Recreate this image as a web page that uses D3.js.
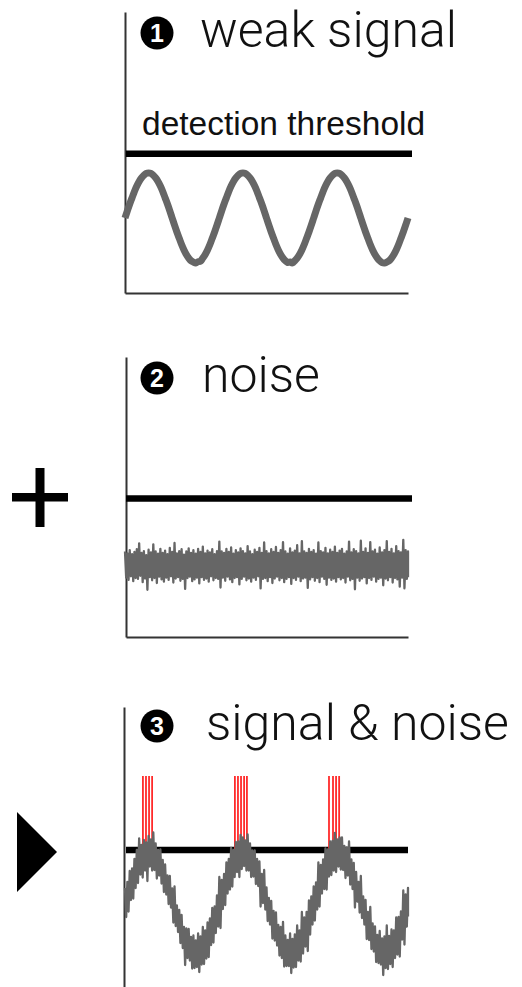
<!DOCTYPE html>
<html>
<head>
<meta charset="utf-8">
<title>Stochastic resonance</title>
<style>
body { margin: 0; background: #fff; }
svg { display: block; }
</style>
</head>
<body>
<script src="https://d3js.org/d3.v7.min.js"></script>
<script>
// weak periodic signal, one sample every 9 degrees of phase (three periods)
var signal = [
  0, .16, .31, .45, .59, .71, .81, .89, .95, .99, 1, .99, .95, .89, .81, .71, .59, .45, .31, .16,
  0, -.16, -.31, -.45, -.59, -.71, -.81, -.89, -.95, -.98, -1, -.97, -.96, -.89, -.81, -.71, -.59, -.45, -.31, -.16,
  0, .16, .31, .45, .59, .71, .81, .89, .95, .99, 1, .99, .95, .89, .81, .71, .59, .45, .31, .16,
  0, -.16, -.31, -.45, -.59, -.71, -.81, -.89, -.95, -.99, -.98, -1, -.95, -.89, -.81, -.71, -.59, -.45, -.31, -.16,
  0, .16, .31, .45, .59, .71, .81, .89, .95, .99, 1, .99, .95, .89, .81, .71, .59, .45, .31, .16,
  0, -.16, -.31, -.45, -.59, -.71, -.81, -.89, -.95, -.99, -1, -.98, -.95, -.89, -.81, -.71, -.59, -.45, -.31, -.16,
  0
];

// noise envelope (upper / lower excursion) for each sample
var noiseHigh = [
  .30, .26, .33, .24, .29, .35, .48, .27, .31, .22, .34, .28, .46, .30, .25, .36, .27, .32, .24, .38,
  .29, .49, .26, .31, .35, .23, .30, .37, .27, .33, .25, .36, .29, .41, .26, .32, .28, .35, .24, .31,
  .52, .30, .27, .36, .29, .39, .25, .33, .28, .37, .31, .26, .42, .30, .24, .34, .29, .38, .27, .50,
  .31, .26, .35, .29, .40, .27, .33, .51, .30, .25, .37, .28, .32, .44, .26, .53, .30, .27, .36, .29,
  .33, .25, .50, .31, .28, .38, .26, .34, .29, .41, .27, .32, .36, .25, .30, .52, .28, .35, .31, .26,
  .54, .29, .37, .27, .51, .30, .34, .25, .39, .28, .33, .53, .29, .36, .26, .42, .31, .28, .56, .33,
  .30
];
var noiseLow = [
  -.28, -.33, -.25, -.36, -.29, -.31, -.24, -.38, -.30, -.55, -.27, -.34, -.29, -.40, -.26, -.32, -.37, -.28, -.33, -.25,
  -.39, -.30, -.27, -.35, -.31, -.53, -.29, -.26, -.36, -.32, -.28, -.41, -.27, -.33, -.30, -.37, -.25, -.34, -.29, -.31,
  -.50, -.28, -.35, -.26, -.32, -.38, -.29, -.27, -.43, -.31, -.26, -.34, -.30, -.37, -.28, -.33, -.25, -.52, -.31, -.29,
  -.36, -.27, -.40, -.30, -.26, -.34, -.29, -.38, -.31, -.27, -.42, -.29, -.33, -.26, -.36, -.30, -.28, -.51, -.32, -.27,
  -.35, -.29, -.38, -.26, -.31, -.44, -.28, -.33, -.30, -.37, -.27, -.32, -.29, -.39, -.26, -.34, -.31, -.54, -.28, -.35,
  -.30, -.27, -.41, -.29, -.33, -.26, -.37, -.31, -.28, -.45, -.30, -.34, -.27, -.39, -.29, -.32, -.48, -.28, -.52, -.31,
  -.27
];

// sample positions where signal & noise crossed the threshold
var spikeTimes = [7.6, 8.9, 10.2, 11.5, 46.6, 47.9, 49.2, 50.5, 51.7, 86.5, 88.2, 89.5, 90.8];
var spikeTop = 2.54;

var thresholds = [1.43, 1.48, 1.06];
var titles = ["weak signal", "noise", "signal & noise"];
var numbers = ["1", "2", "3"];

var width = 522, height = 987;

var svg = d3.select("body").append("svg")
    .attr("width", width)
    .attr("height", height);

var x = d3.scaleLinear().domain([0, signal.length - 1]).range([125, 408]);

var panels = [
  {top: 12,  bottom: 293, center: 218, unit: 45, axisX: 125, xAxis: true,  baseline: 47,  textX: 200, trace: "signal"},
  {top: 357, bottom: 637, center: 565, unit: 45, axisX: 126, xAxis: true,  baseline: 392, textX: 202, trace: "noise"},
  {top: 707, bottom: 995, center: 903, unit: 50, axisX: 124, xAxis: false, baseline: 740, textX: 206, trace: "both"}
];

panels.forEach(function(p, k) {
    var g = svg.append("g");
    var y = d3.scaleLinear().domain([-1, 1]).range([p.center + p.unit, p.center - p.unit]);

    // bare axes, no ticks
    var yAxisScale = d3.scaleLinear().range([p.bottom, p.top]);
    g.append("g")
        .attr("transform", "translate(" + p.axisX + ",0)")
        .call(d3.axisLeft(yAxisScale).ticks(0).tickSizeOuter(0))
        .select(".domain").attr("stroke", "#333").attr("stroke-width", 2);
    if (p.xAxis) {
        var xAxisScale = d3.scaleLinear().range([p.axisX, 408]);
        g.append("g")
            .attr("transform", "translate(0," + p.bottom + ")")
            .call(d3.axisBottom(xAxisScale).ticks(0).tickSizeOuter(0))
            .select(".domain").attr("stroke", "#333").attr("stroke-width", 2);
    }

    // title
    g.append("circle")
        .attr("cx", 157)
        .attr("cy", p.baseline - 14)
        .attr("r", 16.5)
        .attr("fill", "#000");
    g.append("text")
        .attr("x", 157)
        .attr("y", p.baseline - 14)
        .attr("dy", ".36em")
        .attr("text-anchor", "middle")
        .attr("fill", "#fff")
        .style("font", "bold 25px 'Liberation Sans', Arial, sans-serif")
        .text(numbers[k]);
    g.append("text")
        .attr("x", p.textX)
        .attr("y", p.baseline)
        .attr("fill", "#111")
        .style("font", "300 50px 'Helvetica Neue', Roboto, 'Liberation Sans', sans-serif")
        .text(titles[k]);

    if (k === 0) {
        g.append("text")
            .attr("x", 142)
            .attr("y", 135)
            .attr("fill", "#111")
            .style("font", "33.5px 'Liberation Sans', Arial, sans-serif")
            .text("detection threshold");
    }

    // threshold
    g.append("line")
        .attr("x1", x(0) + 1)
        .attr("x2", k === 2 ? x.range()[1] : x.range()[1] + 4)
        .attr("y1", y(thresholds[k]))
        .attr("y2", y(thresholds[k]))
        .attr("stroke", "#000")
        .attr("stroke-width", 6.5);

    if (p.trace === "signal") {
        var line = d3.line()
            .x(function(d, i) { return x(i); })
            .y(function(d) { return y(d); })
            .curve(d3.curveCardinal);
        g.append("path")
            .attr("d", line(signal))
            .attr("fill", "none")
            .attr("stroke", "#666")
            .attr("stroke-width", 7);
        return;
    }

    if (p.trace === "both") {
        g.selectAll(".spike")
            .data(spikeTimes)
            .enter()
            .append("line")
            .attr("class", "spike")
            .attr("x1", function(d) { return x(d); })
            .attr("x2", function(d) { return x(d); })
            .attr("y1", y(spikeTop))
            .attr("y2", y(thresholds[k]))
            .attr("stroke", "#ff2a2a")
            .attr("stroke-width", 1.8);
    }

    // noise drawn as a zig-zag between the upper and lower excursions
    var half = (x(1) - x(0)) / 2;
    var pts = [];
    noiseHigh.forEach(function(h, i) {
        var base = p.trace === "both" ? signal[i] : 0;
        pts.push([x(i), y(base + h)]);
        pts.push([Math.min(x(i) + half, x.range()[1]), y(base + noiseLow[i])]);
    });
    g.append("path")
        .attr("d", d3.line()(pts))
        .attr("fill", "none")
        .attr("stroke", "#666")
        .attr("stroke-width", 2.3)
        .attr("stroke-linejoin", "round");
});

// plus sign
svg.append("rect").attr("x", 12).attr("y", 493).attr("width", 56).attr("height", 8.5).attr("fill", "#000");
svg.append("rect").attr("x", 35.5).attr("y", 468).attr("width", 9).attr("height", 59).attr("fill", "#000");

// arrow head
svg.append("path")
    .attr("d", d3.line()([[17, 812], [57, 852], [17, 892]]) + "Z")
    .attr("fill", "#000");
</script>
</body>
</html>
